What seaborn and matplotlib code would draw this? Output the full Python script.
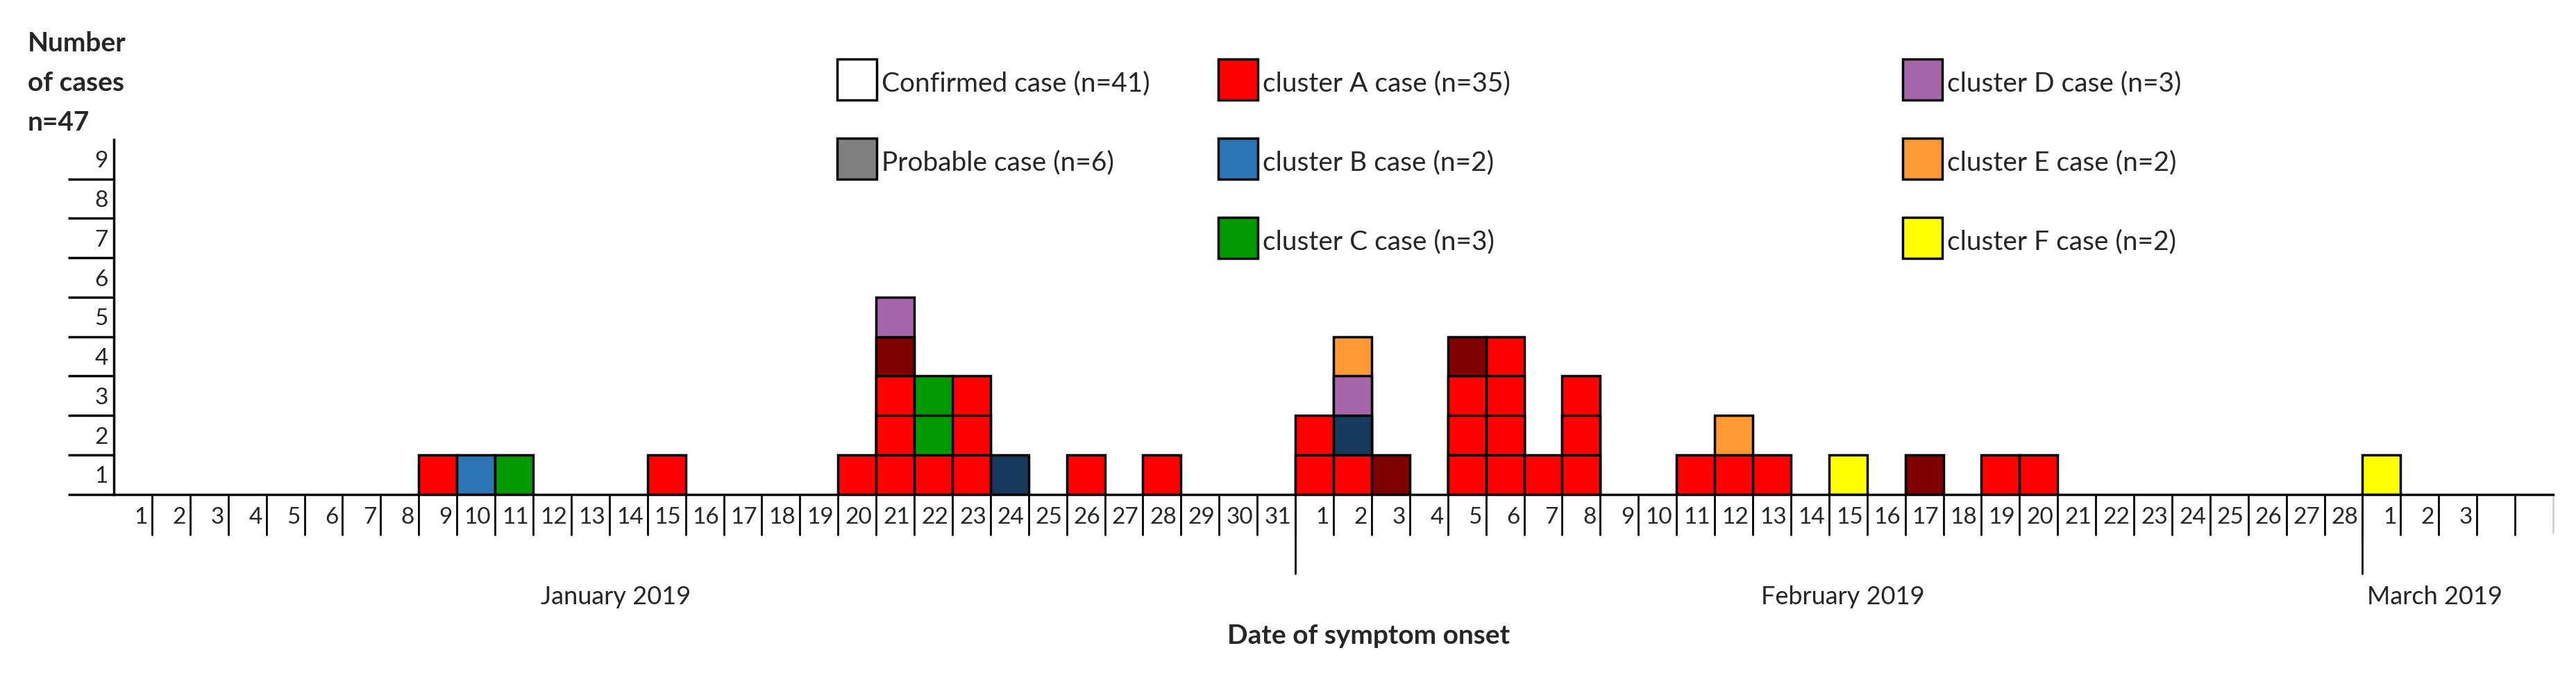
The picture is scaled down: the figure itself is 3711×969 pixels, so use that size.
import matplotlib
matplotlib.use("Agg")
import matplotlib.pyplot as plt
from matplotlib.patches import Rectangle
import matplotlib.transforms as mtransforms
import pandas as pd
import seaborn as sns

# ── Data: one entry per onset day, stack listed bottom -> top ─────────────
onset_month = ["Jan"] * 11 + ["Feb"] * 14 + ["Mar"]
onset_day = [9, 10, 11, 15, 20, 21, 22, 23, 24, 26, 28,
             1, 2, 3, 5, 6, 7, 8, 11, 12, 13, 15, 17, 19, 20,
             1]
onset_stack = ["A", "B", "C", "A", "A", "A A A Ap D", "A C C", "A A A", "Bp", "A", "A",
               "A A", "A Bp D E", "Ap", "A A A Ap", "A A A A", "A", "A A A", "A", "A E",
               "A", "F", "Ap", "A", "A",
               "F"]

months = ["Jan", "Feb", "Mar"]
month_days = [31, 28, 3]
month_titles = ["January 2019", "February 2019", "March 2019"]
n_cells = 64

categories = ["A", "Ap", "B", "Bp", "C", "D", "E", "F"]
cat_colors = {"A": "#FF0000", "Ap": "#800000", "B": "#2E75B6", "Bp": "#17395B",
              "C": "#009900", "D": "#A866AA", "E": "#FF9933", "F": "#FFFF00"}

legend_labels = [["Confirmed case (n=41)", "Probable case (n=6)"],
                 ["cluster A case (n=35)", "cluster B case (n=2)", "cluster C case (n=3)"],
                 ["cluster D case (n=3)", "cluster E case (n=2)", "cluster F case (n=2)"]]
legend_colors = [["#FFFFFF", "#808080"],
                 ["#FF0000", "#2E75B6", "#009900"],
                 ["#A866AA", "#FF9933", "#FFFF00"]]

# ── Build cell table ──────────────────────────────────────────────────────
month_start = {}
acc = 0
for m, n in zip(months, month_days):
    month_start[m] = acc
    acc += n

rows = []
for m, d, stack in zip(onset_month, onset_day, onset_stack):
    for lvl, cat in enumerate(stack.split(), start=1):
        rows.append({"pos": month_start[m] + d - 1, "level": lvl, "cat": cat})
cells = pd.DataFrame(rows)

day_labels = []
for n in month_days:
    day_labels += [str(i) for i in range(1, n + 1)]
day_labels += [""] * (n_cells - len(day_labels))

# ── Figure ────────────────────────────────────────────────────────────────
sns.set_theme(style="white")
plt.rcParams["font.family"] = ["Lato", "DejaVu Sans"]

W, H = 3711, 969
fig = plt.figure(figsize=(W / 100, H / 100), dpi=100)


def fx(px):
    return px / W


def fy(py):
    return 1 - py / H


x0, x1, ybase, ytop = 164, 3678, 711.7, 201
ax = fig.add_axes([fx(x0), fy(ybase), (x1 - x0) / W, (ybase - ytop) / H])

# stacked cells: draw tallest layer first, lower layers overdraw
for lvl in sorted(cells["level"].unique(), reverse=True):
    sub = cells[cells["level"] == lvl]
    sns.barplot(data=sub, x="pos", y="level", hue="cat", hue_order=categories,
                palette=cat_colors, order=list(range(n_cells)), dodge=False,
                width=1, edgecolor="black", linewidth=2.5, errorbar=None,
                legend=False, saturation=1, ax=ax)

ax.set_xlim(-0.5, n_cells - 0.5)
ax.set_ylim(0, 9)
ax.set_xlabel("")
ax.set_ylabel("")
for s in ["top", "right"]:
    ax.spines[s].set_visible(False)
for s in ["left", "bottom"]:
    ax.spines[s].set_linewidth(2.5)
    ax.spines[s].set_color("black")
    ax.spines[s].set_zorder(5)

# x ticks at day boundaries
ax.set_xticks([i + 0.5 for i in range(n_cells - 1)])
ax.set_xticklabels([])
ax.tick_params(axis="x", which="major", direction="out", length=42.5, width=2,
               color="black", bottom=True)

# y ticks at integer boundaries, labels centred in each row
ax.set_yticks(list(range(0, 9)))
ax.set_yticklabels([])
ax.set_yticks([i + 0.5 for i in range(9)], minor=True)
ax.set_yticklabels([str(i + 1) for i in range(9)], minor=True, fontsize=24)
ax.tick_params(axis="y", which="major", direction="out", length=47.5, width=2.5,
               color="black", left=True)
ax.tick_params(axis="y", which="minor", length=0, pad=6, left=True)

blend = mtransforms.blended_transform_factory(ax.transData, ax.transAxes)
for i, lab in enumerate(day_labels):
    ax.text(i + 0.39, -0.065, lab, transform=blend, ha="right", va="center",
            fontsize=24)

# month separators and axis end
for m in months[1:]:
    xb = month_start[m] - 0.5
    ax.plot([xb, xb], [0, -0.226], transform=blend, color="black", lw=2,
            clip_on=False, solid_capstyle="butt")
ax.plot([n_cells - 0.5] * 2, [0, -0.108], transform=blend, color="#D0D0D0",
        lw=2, clip_on=False)

# month titles
month_px = [887, 2655, 3507]
for title, px in zip(month_titles, month_px):
    fig.text(fx(px), fy(870), title, ha="center", va="baseline", fontsize=26)

fig.text(fx(1972), fy(927), "Date of symptom onset", ha="center", va="baseline",
         fontsize=28, fontweight="bold")

for txt, py in zip(["Number", "of cases", "n=47"], [74, 131, 188]):
    fig.text(fx(40), fy(py), txt, ha="left", va="baseline", fontsize=28,
             fontweight="bold")

# legend
col_px = [1206, 1755, 2741]
row_px = [85, 199, 313]
for cx, labs, cols in zip(col_px, legend_labels, legend_colors):
    for ry, lab, c in zip(row_px, labs, cols):
        fig.add_artist(Rectangle((fx(cx), fy(ry + 59)), 57 / W, 59 / H,
                                 transform=fig.transFigure, facecolor=c,
                                 edgecolor="black", linewidth=2.5))
        fig.text(fx(cx + 64), fy(ry + 46), lab, ha="left", va="baseline",
                 fontsize=28)

fig.savefig("out.png", dpi=100)
